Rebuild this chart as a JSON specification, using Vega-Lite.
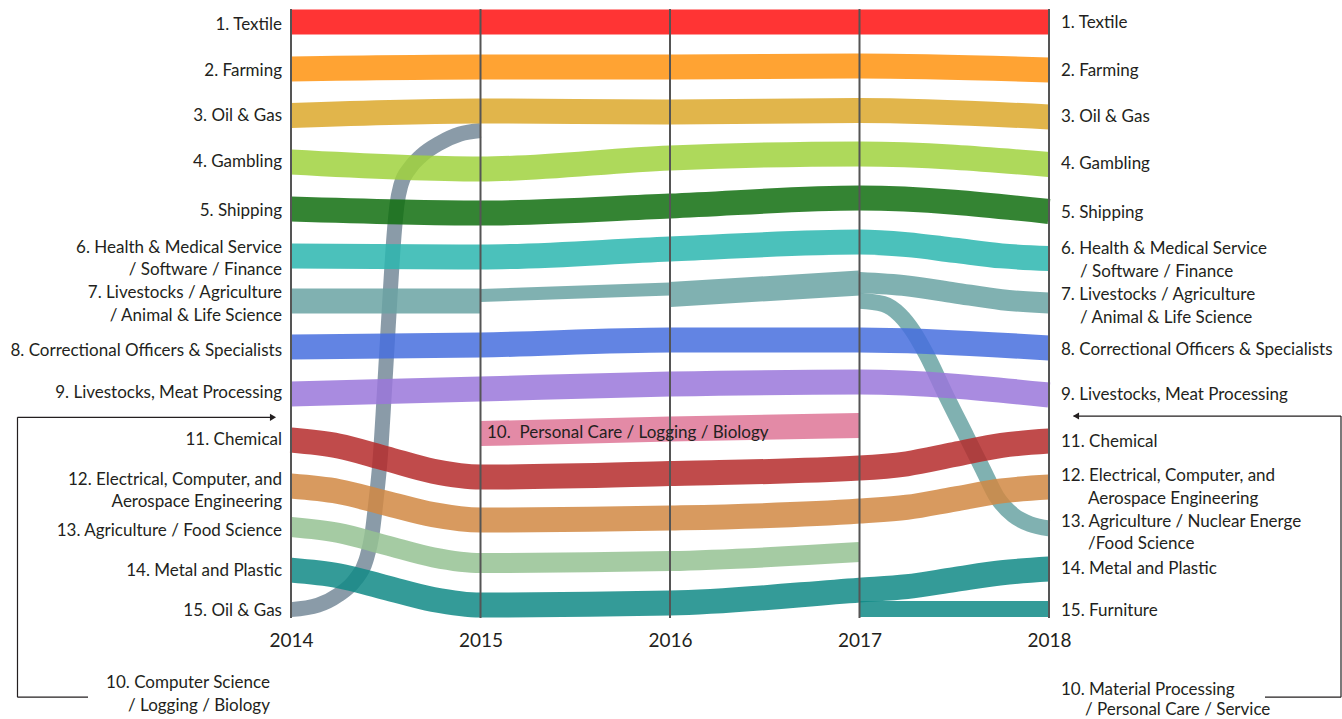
{
  "$schema": "https://vega.github.io/schema/vega-lite/v6.json",
  "width": 758,
  "height": 620,
  "autosize": {"type": "none"},
  "padding": {"left": 291, "top": 1, "right": 293, "bottom": 98},
  "background": "white",
  "config": {"view": {"stroke": null}, "font": "Lato"},
  "datasets": {
    "bands": [
      {"s": "Textile", "t": 2014, "r": 1}, {"s": "Textile", "t": 2018, "r": 1},
      {"s": "Farming", "t": 2014, "r": 2.122}, {"s": "Farming", "t": 2015, "r": 2.075}, {"s": "Farming", "t": 2016, "r": 2.075}, {"s": "Farming", "t": 2017, "r": 2.051}, {"s": "Farming", "t": 2018, "r": 2.146},
      {"s": "Oil & Gas", "t": 2014, "r": 3.233}, {"s": "Oil & Gas", "t": 2015, "r": 3.125}, {"s": "Oil & Gas", "t": 2016, "r": 3.149}, {"s": "Oil & Gas", "t": 2017, "r": 3.113}, {"s": "Oil & Gas", "t": 2018, "r": 3.268},
      {"s": "Gambling", "t": 2014, "r": 4.343}, {"s": "Gambling", "t": 2015, "r": 4.51}, {"s": "Gambling", "t": 2016, "r": 4.247}, {"s": "Gambling", "t": 2017, "r": 4.152}, {"s": "Gambling", "t": 2018, "r": 4.403},
      {"s": "Shipping", "t": 2014, "r": 5.465}, {"s": "Shipping", "t": 2015, "r": 5.561}, {"s": "Shipping", "t": 2016, "r": 5.394}, {"s": "Shipping", "t": 2017, "r": 5.203}, {"s": "Shipping", "t": 2018, "r": 5.525},
      {"s": "Health", "t": 2014, "r": 6.587}, {"s": "Health", "t": 2015, "r": 6.611}, {"s": "Health", "t": 2016, "r": 6.42}, {"s": "Health", "t": 2017, "r": 6.253}, {"s": "Health", "t": 2017.25, "r": 6.315}, {"s": "Health", "t": 2017.5, "r": 6.45}, {"s": "Health", "t": 2017.75, "r": 6.585}, {"s": "Health", "t": 2018, "r": 6.647},
      {"s": "LivA", "t": 2014, "r": 7.662}, {"s": "LivA", "t": 2015, "r": 7.662},
      {"s": "LivB", "t": 2015, "r": 7.531}, {"s": "LivB", "t": 2016, "r": 7.375},
      {"s": "LivC", "t": 2016, "r": 7.507}, {"s": "LivC", "t": 2017, "r": 7.232},
      {"s": "LivD", "t": 2017, "r": 7.22}, {"s": "LivD", "t": 2017.25, "r": 7.299}, {"s": "LivD", "t": 2017.5, "r": 7.465}, {"s": "LivD", "t": 2017.75, "r": 7.631}, {"s": "LivD", "t": 2018, "r": 7.71},
      {"s": "LivE", "t": 2017, "r": 7.655}, {"s": "LivE", "t": 2017.1256, "r": 7.734}, {"s": "LivE", "t": 2017.2137, "r": 7.996}, {"s": "LivE", "t": 2017.284, "r": 8.395}, {"s": "LivE", "t": 2017.3546, "r": 8.951}, {"s": "LivE", "t": 2017.46, "r": 9.947}, {"s": "LivE", "t": 2017.5657, "r": 10.902}, {"s": "LivE", "t": 2017.6533, "r": 11.697}, {"s": "LivE", "t": 2017.724, "r": 12.335}, {"s": "LivE", "t": 2017.8116, "r": 12.772}, {"s": "LivE", "t": 2017.9, "r": 12.987}, {"s": "LivE", "t": 2018, "r": 13.089},
      {"s": "Correctional", "t": 2014, "r": 8.76}, {"s": "Correctional", "t": 2015, "r": 8.713}, {"s": "Correctional", "t": 2016, "r": 8.593}, {"s": "Correctional", "t": 2017, "r": 8.593}, {"s": "Correctional", "t": 2018, "r": 8.784},
      {"s": "Meat", "t": 2014, "r": 9.883}, {"s": "Meat", "t": 2015, "r": 9.763}, {"s": "Meat", "t": 2016, "r": 9.644}, {"s": "Meat", "t": 2017, "r": 9.596}, {"s": "Meat", "t": 2018, "r": 9.906},
      {"s": "Pink", "t": 2015, "r": 10.826}, {"s": "Pink", "t": 2016, "r": 10.718}, {"s": "Pink", "t": 2017, "r": 10.635},
      {"s": "Chemical", "t": 2014, "r": 10.981}, {"s": "Chemical", "t": 2014.25, "r": 11.122}, {"s": "Chemical", "t": 2014.5, "r": 11.421}, {"s": "Chemical", "t": 2014.75, "r": 11.724}, {"s": "Chemical", "t": 2015, "r": 11.865}, {"s": "Chemical", "t": 2016, "r": 11.781}, {"s": "Chemical", "t": 2017, "r": 11.65}, {"s": "Chemical", "t": 2017.25, "r": 11.547}, {"s": "Chemical", "t": 2017.5, "r": 11.327}, {"s": "Chemical", "t": 2017.75, "r": 11.108}, {"s": "Chemical", "t": 2018, "r": 11.005},
      {"s": "Electrical", "t": 2014, "r": 12.079}, {"s": "Electrical", "t": 2014.25, "r": 12.208}, {"s": "Electrical", "t": 2014.5, "r": 12.485}, {"s": "Electrical", "t": 2014.75, "r": 12.762}, {"s": "Electrical", "t": 2015, "r": 12.891}, {"s": "Electrical", "t": 2016, "r": 12.843}, {"s": "Electrical", "t": 2017, "r": 12.676}, {"s": "Electrical", "t": 2017.25, "r": 12.585}, {"s": "Electrical", "t": 2017.5, "r": 12.39}, {"s": "Electrical", "t": 2017.75, "r": 12.194}, {"s": "Electrical", "t": 2018, "r": 12.103},
      {"s": "Agri", "t": 2014, "r": 13.058}, {"s": "Agri", "t": 2014.25, "r": 13.197}, {"s": "Agri", "t": 2014.5, "r": 13.488}, {"s": "Agri", "t": 2014.75, "r": 13.78}, {"s": "Agri", "t": 2015, "r": 13.918}, {"s": "Agri", "t": 2016, "r": 13.87}, {"s": "Agri", "t": 2017, "r": 13.655},
      {"s": "Metal", "t": 2014, "r": 14.085}, {"s": "Metal", "t": 2014.25, "r": 14.219}, {"s": "Metal", "t": 2014.5, "r": 14.503}, {"s": "Metal", "t": 2014.75, "r": 14.787}, {"s": "Metal", "t": 2015, "r": 14.921}, {"s": "Metal", "t": 2016, "r": 14.873}, {"s": "Metal", "t": 2017, "r": 14.563}, {"s": "Metal", "t": 2017.25, "r": 14.481}, {"s": "Metal", "t": 2017.5, "r": 14.312}, {"s": "Metal", "t": 2017.75, "r": 14.149}, {"s": "Metal", "t": 2018, "r": 14.061},
      {"s": "Furniture", "t": 2017, "r": 15.016}, {"s": "Furniture", "t": 2018, "r": 15.016},
      {"s": "Oil15", "t": 2014, "r": 15.028}, {"s": "Oil15", "t": 2014.1425, "r": 14.921}, {"s": "Oil15", "t": 2014.248, "r": 14.682}, {"s": "Oil15", "t": 2014.338, "r": 14.324}, {"s": "Oil15", "t": 2014.396, "r": 13.846}, {"s": "Oil15", "t": 2014.427, "r": 13.249}, {"s": "Oil15", "t": 2014.449, "r": 12.414}, {"s": "Oil15", "t": 2014.47, "r": 11.458}, {"s": "Oil15", "t": 2014.4855, "r": 10.384}, {"s": "Oil15", "t": 2014.512, "r": 8.354}, {"s": "Oil15", "t": 2014.546, "r": 5.967}, {"s": "Oil15", "t": 2014.559, "r": 5.37}, {"s": "Oil15", "t": 2014.58, "r": 4.892}, {"s": "Oil15", "t": 2014.628, "r": 4.486}, {"s": "Oil15", "t": 2014.686, "r": 4.2}, {"s": "Oil15", "t": 2014.786, "r": 3.889}, {"s": "Oil15", "t": 2014.892, "r": 3.674}, {"s": "Oil15", "t": 2015, "r": 3.59}
    ],
    "years": [
      {"t": 2014, "r": 0.69, "r2": 15.231}, {"t": 2015, "r": 0.69, "r2": 15.231}, {"t": 2016, "r": 0.69, "r2": 15.231}, {"t": 2017, "r": 0.69, "r2": 15.231}, {"t": 2018, "r": 0.69, "r2": 15.231}
    ],
    "labels": [
      {"side": "L", "t": 2013.9525, "r": 1.036, "text": "1. Textile"},
      {"side": "L", "t": 2013.9525, "r": 2.146, "text": "2. Farming"},
      {"side": "L", "t": 2013.9525, "r": 3.221, "text": "3. Oil & Gas"},
      {"side": "L", "t": 2013.9525, "r": 4.307, "text": "4. Gambling"},
      {"side": "L", "t": 2013.9525, "r": 5.477, "text": "5. Shipping"},
      {"side": "L", "t": 2013.9525, "r": 6.361, "text": "6. Health & Medical Service"},
      {"side": "L", "t": 2013.9525, "r": 6.874, "text": "/ Software / Finance"},
      {"side": "L", "t": 2013.9525, "r": 7.423, "text": "7. Livestocks / Agriculture"},
      {"side": "L", "t": 2013.9525, "r": 7.972, "text": "/ Animal & Life Science"},
      {"side": "L", "t": 2013.9525, "r": 8.808, "text": "8. Correctional Officers & Specialists"},
      {"side": "L", "t": 2013.9525, "r": 9.811, "text": "9. Livestocks, Meat Processing"},
      {"side": "L", "t": 2013.9525, "r": 10.945, "text": "11. Chemical"},
      {"side": "L", "t": 2013.9525, "r": 11.888, "text": "12. Electrical, Computer, and"},
      {"side": "L", "t": 2013.9525, "r": 12.413, "text": "Aerospace Engineering"},
      {"side": "L", "t": 2013.9525, "r": 13.118, "text": "13. Agriculture / Food Science"},
      {"side": "L", "t": 2013.9525, "r": 14.073, "text": "14. Metal and Plastic"},
      {"side": "L", "t": 2013.9525, "r": 15.028, "text": "15. Oil & Gas"},
      {"side": "L", "t": 2013.889, "r": 16.747, "text": "10. Computer Science"},
      {"side": "L", "t": 2013.889, "r": 17.285, "text": "/ Logging / Biology"},
      {"side": "R", "t": 2018.0633, "r": 0.988, "text": "1. Textile"},
      {"side": "R", "t": 2018.0633, "r": 2.134, "text": "2. Farming"},
      {"side": "R", "t": 2018.0633, "r": 3.233, "text": "3. Oil & Gas"},
      {"side": "R", "t": 2018.0633, "r": 4.367, "text": "4. Gambling"},
      {"side": "R", "t": 2018.0633, "r": 5.513, "text": "5. Shipping"},
      {"side": "R", "t": 2018.0633, "r": 6.396, "text": "6. Health & Medical Service"},
      {"side": "R", "t": 2018.1636, "r": 6.922, "text": "/ Software / Finance"},
      {"side": "R", "t": 2018.0633, "r": 7.471, "text": "7. Livestocks / Agriculture"},
      {"side": "R", "t": 2018.1636, "r": 8.02, "text": "/ Animal & Life Science"},
      {"side": "R", "t": 2018.0633, "r": 8.784, "text": "8. Correctional Officers & Specialists"},
      {"side": "R", "t": 2018.0633, "r": 9.859, "text": "9. Livestocks, Meat Processing"},
      {"side": "R", "t": 2018.0633, "r": 10.981, "text": "11. Chemical"},
      {"side": "R", "t": 2018.0633, "r": 11.805, "text": "12. Electrical, Computer, and"},
      {"side": "R", "t": 2018.2058, "r": 12.342, "text": "Aerospace Engineering"},
      {"side": "R", "t": 2018.0633, "r": 12.903, "text": "13. Agriculture / Nuclear Energe"},
      {"side": "R", "t": 2018.2058, "r": 13.417, "text": "/Food Science"},
      {"side": "R", "t": 2018.0633, "r": 14.013, "text": "14. Metal and Plastic"},
      {"side": "R", "t": 2018.0633, "r": 15.016, "text": "15. Furniture"},
      {"side": "R", "t": 2018.0633, "r": 16.91, "text": "10. Material Processing"},
      {"side": "R", "t": 2018.19, "r": 17.39, "text": "/ Personal Care / Service"},
      {"side": "R", "t": 2015.0343, "r": 10.766, "text": "10.\u00a0 Personal Care / Logging / Biology"}
    ],
    "arrows": [
      {"t": 2012.5567, "t2": 2013.91, "r": 10.439, "r2": 10.439},
      {"t": 2012.5567, "t2": 2012.5567, "r": 10.439, "r2": 17.118},
      {"t": 2012.5567, "t2": 2012.9288, "r": 17.118, "r2": 17.118},
      {"t": 2018.13, "t2": 2019.5409, "r": 10.408, "r2": 10.408},
      {"t": 2019.5409, "t2": 2019.5409, "r": 10.408, "r2": 17.118},
      {"t": 2019.1398, "t2": 2019.5409, "r": 17.118, "r2": 17.118}
    ],
    "heads": [
      {"side": "L", "t": 2013.905, "r": 10.439},
      {"side": "R", "t": 2018.1425, "r": 10.408}
    ]
  },
  "encoding": {
    "x": {"field": "t", "type": "quantitative", "scale": {"domain": [2014, 2018], "nice": false, "zero": false},
      "axis": {"values": [2014, 2015, 2016, 2017, 2018], "format": "d", "domain": false, "ticks": false, "tickSize": 0, "grid": false, "labelFlush": false, "labelPadding": 10, "labelFontSize": 19, "labelFont": "Lato", "labelColor": "#231F20", "title": null}},
    "y": {"field": "r", "type": "quantitative", "scale": {"domain": [0.5, 15.3], "reverse": true, "nice": false, "zero": false}, "axis": null}
  },
  "layer": [
    {
      "data": {"name": "bands"},
      "transform": [{"filter": {"field": "s", "oneOf": ["Oil15"]}}],
      "mark": {"type": "line", "interpolate": "monotone", "strokeWidth": 15, "opacity": 0.85},
      "encoding": {"color": {"field": "s", "type": "nominal", "legend": null,
        "scale": {"domain": ["Textile", "Farming", "Oil & Gas", "Gambling", "Shipping", "Health", "LivA", "LivB", "LivC", "LivD", "LivE", "Correctional", "Meat", "Pink", "Chemical", "Electrical", "Agri", "Metal", "Furniture", "Oil15"],
          "range": ["#FF1010", "#FF930F", "#DCA82B", "#A0D23E", "#116E0F", "#2CB6AF", "#6AA3A3", "#6AA3A3", "#6AA3A3", "#6AA3A3", "#6AA3A3", "#476FDE", "#9A77DA", "#DE7696", "#B52C2C", "#D18843", "#95C293", "#108986", "#108986", "#758999"]}}}
    },
    {
      "data": {"name": "bands"},
      "transform": [{"filter": {"field": "s", "oneOf": ["LivE"]}}],
      "mark": {"type": "line", "interpolate": "monotone", "strokeWidth": 16, "opacity": 0.85},
      "encoding": {"color": {"field": "s", "type": "nominal", "legend": null}}
    },
    {
      "data": {"name": "bands"},
      "transform": [{"filter": {"field": "s", "oneOf": ["Textile", "Farming", "Oil & Gas", "Gambling", "Shipping", "Health", "LivA", "LivC", "Correctional", "Meat", "Pink", "Chemical", "Electrical", "Metal"]}}],
      "mark": {"type": "line", "interpolate": "monotone", "strokeWidth": 25, "opacity": 0.85},
      "encoding": {"color": {"field": "s", "type": "nominal", "legend": null}}
    },
    {
      "data": {"name": "bands"},
      "transform": [{"filter": {"field": "s", "oneOf": ["Agri"]}}],
      "mark": {"type": "line", "interpolate": "monotone", "strokeWidth": 20, "opacity": 0.85},
      "encoding": {"color": {"field": "s", "type": "nominal", "legend": null}}
    },
    {
      "data": {"name": "bands"},
      "transform": [{"filter": {"field": "s", "oneOf": ["LivB"]}}],
      "mark": {"type": "line", "interpolate": "monotone", "strokeWidth": 13, "opacity": 0.85},
      "encoding": {"color": {"field": "s", "type": "nominal", "legend": null}}
    },
    {
      "data": {"name": "bands"},
      "transform": [{"filter": {"field": "s", "oneOf": ["LivD"]}}],
      "mark": {"type": "line", "interpolate": "monotone", "strokeWidth": 21, "opacity": 0.85},
      "encoding": {"color": {"field": "s", "type": "nominal", "legend": null}}
    },
    {
      "data": {"name": "bands"},
      "transform": [{"filter": {"field": "s", "oneOf": ["Furniture"]}}],
      "mark": {"type": "line", "interpolate": "monotone", "strokeWidth": 16, "opacity": 0.85},
      "encoding": {"color": {"field": "s", "type": "nominal", "legend": null}}
    },
    {
      "data": {"name": "years"},
      "mark": {"type": "rule", "color": "#555555", "strokeWidth": 2},
      "encoding": {"y2": {"field": "r2"}}
    },
    {
      "data": {"name": "labels"},
      "transform": [{"filter": {"field": "side", "equal": "L"}}],
      "mark": {"type": "text", "align": "right", "baseline": "middle", "dy": 1.5, "font": "Lato", "fontSize": 17, "color": "#231F20"},
      "encoding": {"text": {"field": "text", "type": "nominal"}}
    },
    {
      "data": {"name": "labels"},
      "transform": [{"filter": {"field": "side", "equal": "R"}}],
      "mark": {"type": "text", "align": "left", "baseline": "middle", "dy": 1.5, "font": "Lato", "fontSize": 17, "color": "#231F20"},
      "encoding": {"text": {"field": "text", "type": "nominal"}}
    },
    {
      "data": {"name": "arrows"},
      "mark": {"type": "rule", "color": "#231F20", "strokeWidth": 1.2},
      "encoding": {"x2": {"field": "t2"}, "y2": {"field": "r2"}}
    },
    {
      "data": {"name": "heads"},
      "transform": [{"filter": {"field": "side", "equal": "L"}}],
      "mark": {"type": "point", "shape": "triangle-right", "filled": true, "color": "#231F20", "size": 50, "opacity": 1}
    },
    {
      "data": {"name": "heads"},
      "transform": [{"filter": {"field": "side", "equal": "R"}}],
      "mark": {"type": "point", "shape": "triangle-left", "filled": true, "color": "#231F20", "size": 50, "opacity": 1}
    }
  ]
}
